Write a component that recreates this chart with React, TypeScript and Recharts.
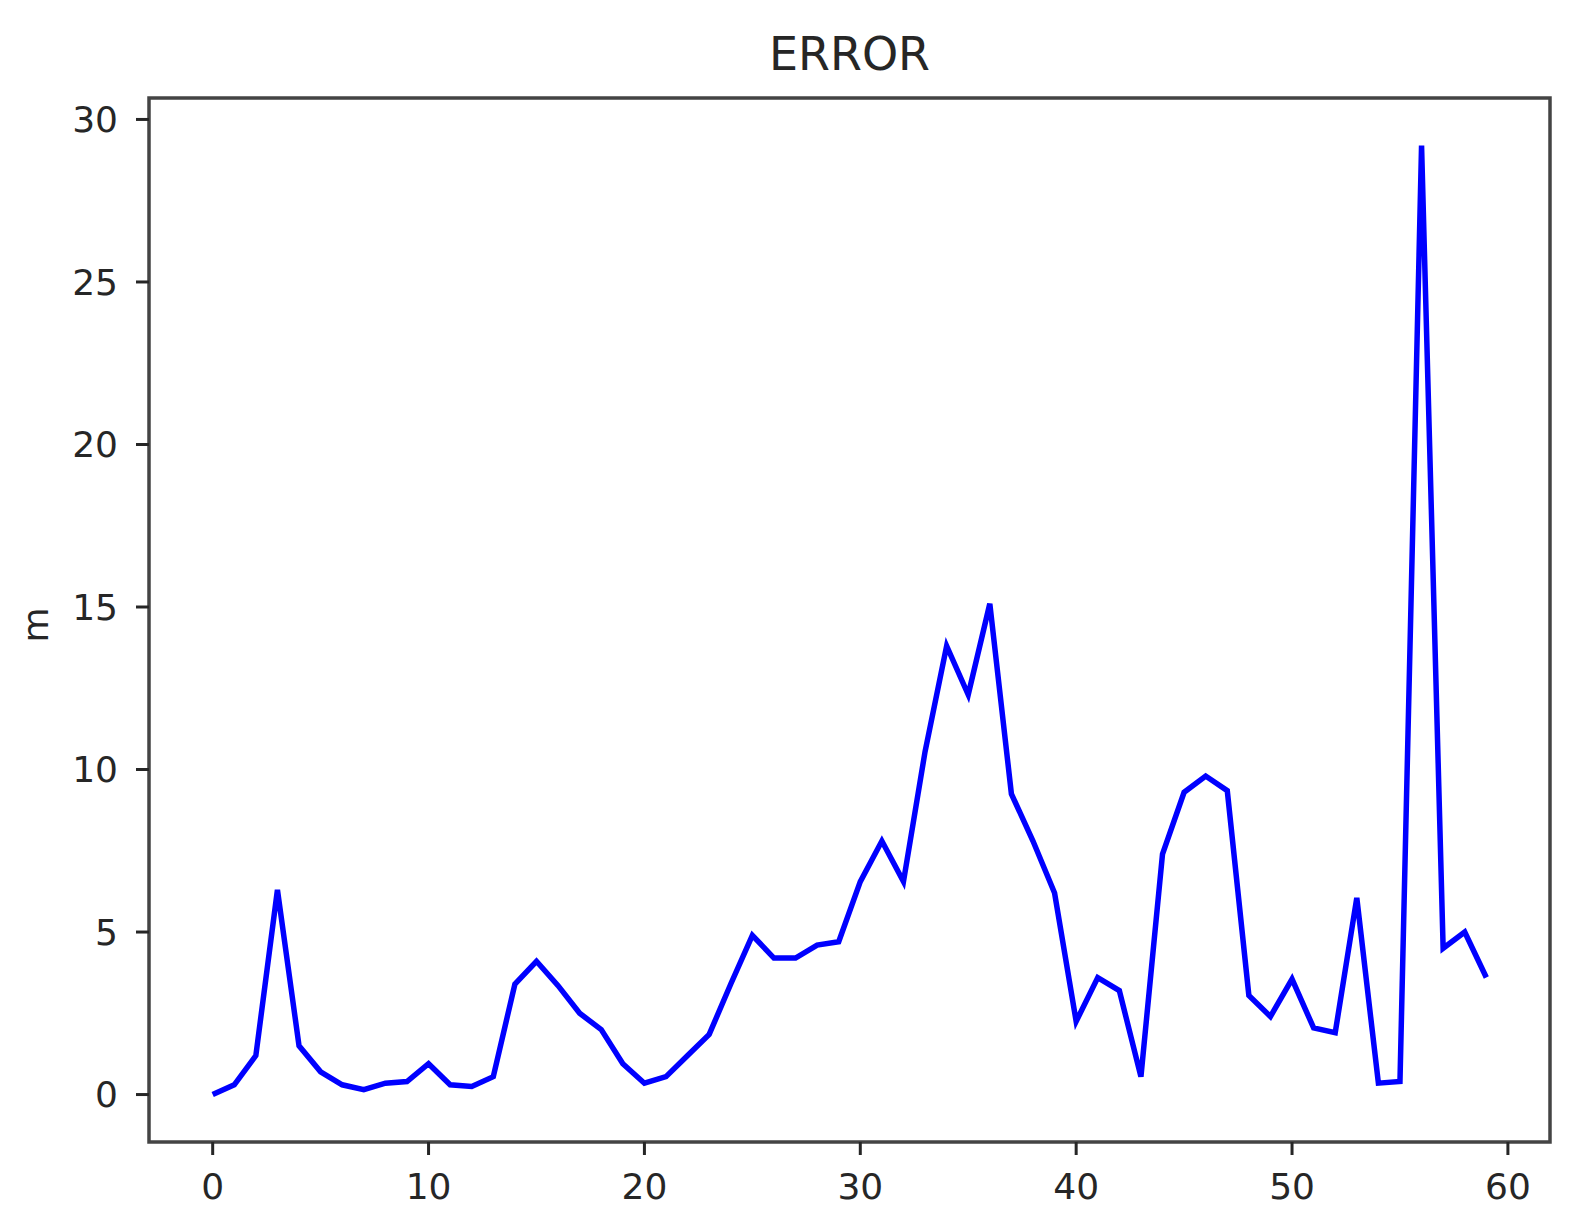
import React from "react";
import {
  LineChart,
  Line,
  XAxis,
  YAxis,
  ReferenceArea,
  Label,
} from "recharts";

// error per step (m)
const steps = Array.from({ length: 60 }, (_, i) => i);
const errorValues = [
  0, 0.3, 1.2, 6.3, 1.5, 0.7, 0.3, 0.15, 0.35, 0.4,
  0.95, 0.3, 0.25, 0.55, 3.4, 4.1, 3.35, 2.5, 2.0, 0.95,
  0.35, 0.55, 1.2, 1.85, 3.4, 4.9, 4.2, 4.2, 4.6, 4.7,
  6.55, 7.8, 6.55, 10.55, 13.8, 12.3, 15.1, 9.25, 7.8, 6.2,
  2.25, 3.6, 3.2, 0.55, 7.4, 9.3, 9.8, 9.35, 3.05, 2.4,
  3.55, 2.05, 1.9, 6.05, 0.35, 0.4, 29.2, 4.5, 5.0, 3.6,
];
const xTicks = [0, 10, 20, 30, 40, 50, 60];
const yTicks = [0, 5, 10, 15, 20, 25, 30];

const X_DOMAIN: [number, number] = [-2.95, 61.95];
const Y_DOMAIN: [number, number] = [-1.46, 30.66];

const FONT = "'DejaVu Sans', sans-serif";
const tickStyle = { fill: "#262626", fontSize: 36, fontFamily: FONT };

const data = steps.map((step, i) => ({ step, error: errorValues[i] }));

const YLabel = (props: any) => {
  const { viewBox } = props;
  const cy = viewBox.y + viewBox.height / 2 + 5;
  return (
    <text
      x={35}
      y={cy}
      transform={`rotate(-90, 35, ${cy})`}
      textAnchor="middle"
      dominantBaseline="central"
      fill="#262626"
      fontSize={36}
      fontFamily={FONT}
    >
      m
    </text>
  );
};

export default function App() {
  return (
    <div
      style={{
        position: "absolute",
        left: 0,
        top: 0,
        width: 1580,
        height: 1227,
        background: "#fff",
      }}
    >
      <div
        style={{
          position: "absolute",
          left: 149,
          width: 1401,
          top: 31,
          textAlign: "center",
          fontFamily: FONT,
          fontSize: 46,
          lineHeight: "46px",
          color: "#262626",
        }}
      >
        ERROR
      </div>
      <LineChart
        width={1580}
        height={1227}
        data={data}
        margin={{ top: 98, right: 30, bottom: 35, left: 0 }}
      >
        <XAxis
          dataKey="step"
          type="number"
          domain={X_DOMAIN}
          ticks={xTicks}
          allowDataOverflow
          height={50}
          axisLine={false}
          tickLine={{ stroke: "#262626", strokeWidth: 3 }}
          tickSize={13}
          tickMargin={18}
          tick={tickStyle}
        />
        <YAxis
          type="number"
          domain={Y_DOMAIN}
          ticks={yTicks}
          allowDataOverflow
          width={149}
          axisLine={false}
          tickLine={{ stroke: "#262626", strokeWidth: 3 }}
          tickSize={13}
          tickMargin={18}
          tick={tickStyle}
        >
          <Label content={<YLabel />} />
        </YAxis>
        <ReferenceArea
          x1={X_DOMAIN[0]}
          x2={X_DOMAIN[1]}
          y1={Y_DOMAIN[0]}
          y2={Y_DOMAIN[1]}
          fill="none"
          stroke="#444"
          strokeWidth={3.5}
          ifOverflow="visible"
        />
        <Line
          type="linear"
          dataKey="error"
          stroke="#0000ff"
          strokeWidth={5.5}
          strokeLinejoin="miter"
          dot={false}
          isAnimationActive={false}
        />
      </LineChart>
    </div>
  );
}
